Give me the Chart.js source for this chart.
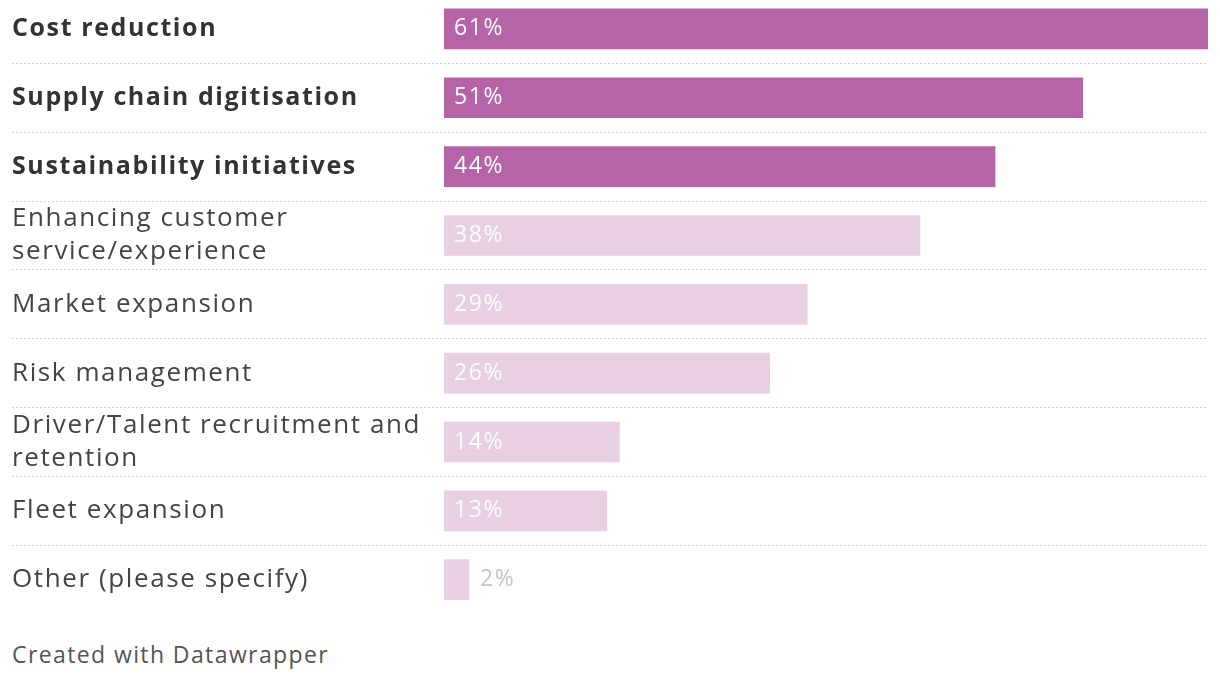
<!DOCTYPE html>
<html>
<head>
<meta charset="utf-8">
<script src="https://cdn.jsdelivr.net/npm/chart.js@4"></script>
<style>
  body { margin: 0; background: #fff; overflow: hidden; }
  #wrap { width: 1220px; height: 652px; position: absolute; left: 0; top: -22px; }
  #note { position: absolute; left: 12px; top: 638px; font: 23px "Open Sans", sans-serif; letter-spacing: 1.4px; color: #555; }
</style>
</head>
<body>
<div id="wrap"><canvas id="myChart"></canvas></div>
<div id="note">Created with Datawrapper</div>
<script>
var labels = [
  'Cost reduction',
  'Supply chain digitisation',
  'Sustainability initiatives',
  ['Enhancing customer', 'service/experience'],
  'Market expansion',
  'Risk management',
  ['Driver/Talent recruitment and', 'retention'],
  'Fleet expansion',
  'Other (please specify)'
];
var values = [61, 51, 44, 38, 29, 26, 14, 13, 2];
var highlighted = [true, true, true, false, false, false, false, false, false];

var dark = '#b565a7';
var light = '#e8cfe4';

// wider tracking for all canvas text, like the original font
var tracking = {
  id: 'tracking',
  beforeDraw: function(chart) {
    chart.ctx.letterSpacing = '1.6px';
  }
};

// draws the % labels on the bars
var valueLabels = {
  id: 'valueLabels',
  afterDatasetsDraw: function(chart) {
    var c = chart.ctx;
    var meta = chart.getDatasetMeta(0);
    c.save();
    c.font = '23px "Open Sans", sans-serif';
    c.textBaseline = 'middle';
    c.textAlign = 'left';
    meta.data.forEach(function(bar, i) {
      var v = values[i];
      if (v >= 5) {
        c.fillStyle = '#ffffff';
        c.fillText(v + '%', bar.base + 10, bar.y);
      } else {
        c.fillStyle = '#c4c4c4';
        c.fillText(v + '%', bar.x + 11, bar.y);
      }
    });
    c.restore();
  }
};

var ctx = document.getElementById('myChart').getContext('2d');
var myChart = new Chart(ctx, {
  type: 'bar',
  data: {
    labels: labels,
    datasets: [{
      data: values,
      backgroundColor: highlighted.map(function(h) { return h ? dark : light; }),
      barThickness: 40,
      borderWidth: 0
    }]
  },
  plugins: [tracking, valueLabels],
  options: {
    indexAxis: 'y',
    responsive: true,
    maintainAspectRatio: false,
    animation: false,
    layout: { padding: { left: 12, right: 12, top: 0, bottom: 0 } },
    plugins: {
      legend: { display: false },
      tooltip: { enabled: false }
    },
    scales: {
      x: {
        display: false,
        min: 0,
        max: 61
      },
      y: {
        afterFit: function(scale) { scale.width = 432; },
        border: { display: false, dash: [2, 2] },
        grid: {
          offset: true,
          drawTicks: true,
          tickLength: 432,
          tickBorderDash: [2, 2],
          color: function(c) {
            return (c.type === 'tick' && c.index > 0) ? '#d4d4d4' : 'rgba(0,0,0,0)';
          }
        },
        ticks: {
          crossAlign: 'far',
          padding: 0,
          autoSkip: false,
          color: function(c) { return highlighted[c.index] ? '#333333' : '#444444'; },
          font: function(c) {
            return {
              family: '"Open Sans", sans-serif',
              size: highlighted[c.index] ? 25 : 26,
              weight: highlighted[c.index] ? 'bold' : 'normal',
              lineHeight: 1.27
            };
          }
        }
      }
    }
  }
});
</script>
</body>
</html>
